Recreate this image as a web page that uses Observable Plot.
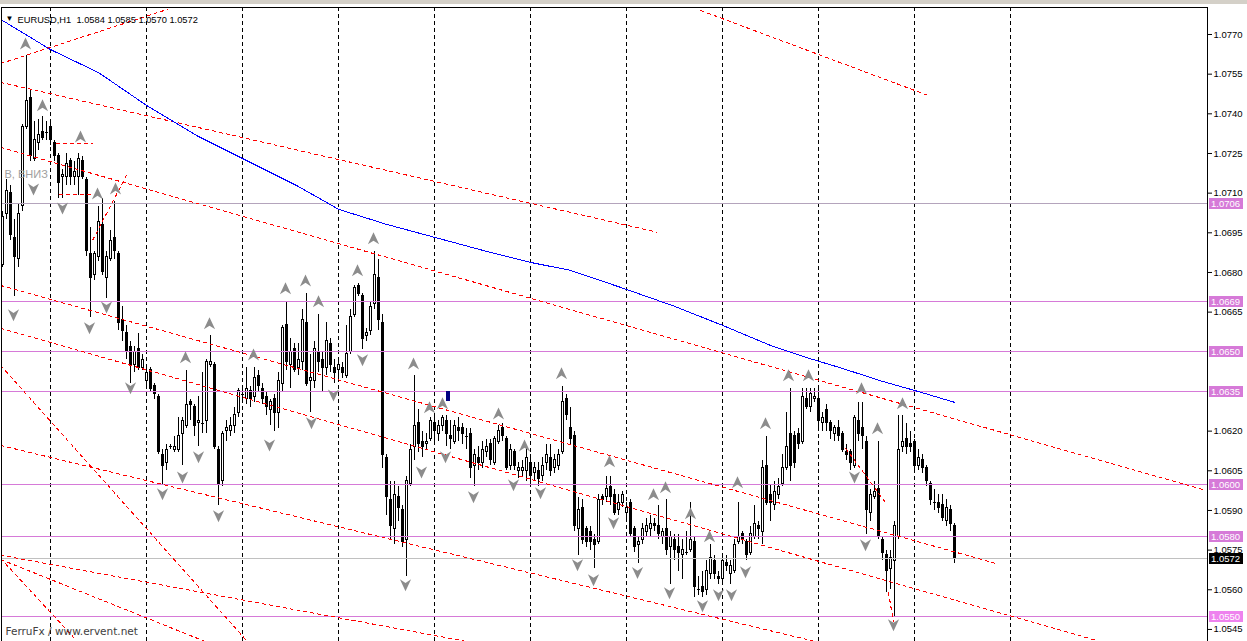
<!DOCTYPE html>
<html>
<head>
<meta charset="utf-8">
<script src="https://cdn.jsdelivr.net/npm/d3@7"></script>
<script src="https://cdn.jsdelivr.net/npm/@observablehq/plot@0.6"></script>
<style>
  body { margin: 0; background: #fff; }
  #wrap { position: relative; width: 1247px; height: 641px; overflow: hidden; }
  #bar { position: absolute; left: 0; top: 0; width: 1247px; height: 4px; background: #d4d0c8; }
</style>
</head>
<body>
<div id="wrap"><div id="chart"></div><div id="bar"></div></div>
<script>
// EURUSD H1 - prices kept in pips above 1.0500
const BASE = 1.05;
const pip = p => BASE + p / 10000;

const opens = [183,202,210,193,185,205,235,246,223,229,
  233,233,235,229,224,216,216,222,216,216,
  222,215,187,179,186,198,178,185,193,187,
  162,157,152,145,151,144,139,143,137,133,
  111,108,114,113,113,119,122,131,129,123,
  123,124,145,145,113,101,120,120,122,127,
  134,132,135,133,141,136,133,128,132,127,
  138,160,145,151,144,146,161,139,139,150,
  147,144,153,144,143,144,141,150,164,175,
  171,156,158,168,178,161,110,94,83,95,
  90,79,100,114,123,116,115,117,123,119,
  122,124,118,116,121,121,118,119,107,110,
  108,112,115,108,116,121,117,107,112,105,
  105,105,108,104,105,103,108,110,106,107,
  112,132,121,118,83,91,83,82,79,78,
  95,95,99,96,90,93,89,93,83,77,
  79,82,83,85,84,80,83,76,79,76,
  73,74,75,78,60,61,60,66,71,65,
  64,70,66,67,78,81,78,74,80,84,
  82,107,96,92,96,100,106,119,118,119,
  116,132,129,132,132,123,128,123,119,121,
  119,112,112,107,124,121,116,89,95,98,
  79,73,68,71,80,114,117,115,116,107,
  109,106,100,93,93,92,86,90,84];
const highs = [203,215,213,200,206,236,262,249,237,238,
  239,237,237,230,225,219,225,223,222,225,
  224,216,197,188,205,208,188,196,207,188,
  167,160,154,152,157,149,144,144,138,134,
  113,115,115,118,125,125,143,132,130,133,
  142,147,156,146,114,120,124,125,129,136,
  137,144,137,144,143,138,135,132,134,142,
  160,169,155,153,153,166,172,149,154,164,
  150,161,155,147,147,146,160,166,175,176,
  172,159,169,188,185,164,111,101,101,99,
  92,103,115,141,128,120,119,125,125,124,
  126,126,124,124,125,123,121,121,113,114,
  116,117,117,118,122,123,118,115,113,108,
  109,114,111,108,108,110,115,115,111,113,
  137,134,129,120,95,94,84,84,81,96,
  96,103,103,98,96,97,93,94,84,80,
  85,87,88,87,92,83,94,82,81,81,
  79,82,93,80,65,67,71,77,73,67,
  73,73,71,79,93,82,79,84,92,86,
  109,118,100,101,102,111,127,136,120,121,
  136,136,136,136,136,127,130,124,122,124,
  120,115,113,126,131,131,118,98,101,116,
  80,75,75,86,126,126,123,120,117,113,
  111,107,101,98,96,96,94,92,85];
const lows = [182,200,192,171,182,203,234,222,222,226,
  230,230,228,222,208,208,213,213,213,209,
  215,186,163,177,184,179,170,184,185,158,
  154,147,138,142,143,143,136,135,132,111,
  100,105,113,112,112,107,121,124,118,114,
  119,119,144,113,92,99,116,118,119,125,
  132,130,129,131,135,130,126,122,120,121,
  135,143,136,142,141,143,137,127,136,142,
  135,141,142,138,139,140,140,149,163,171,
  151,154,156,166,158,106,88,79,77,86,
  76,65,99,109,112,110,113,116,116,116,
  120,114,113,115,116,115,113,102,99,105,
  106,110,107,107,115,116,105,105,105,102,
  103,101,99,101,99,101,105,103,104,105,
  111,124,115,82,73,77,76,75,68,77,
  92,93,92,88,88,91,86,80,74,70,
  77,80,80,82,79,77,73,62,71,67,
  64,73,74,57,58,57,58,64,64,62,
  63,67,62,66,77,77,71,73,79,79,
  77,92,86,90,94,99,105,101,106,113,
  115,128,127,131,121,120,120,117,116,116,
  112,109,105,106,116,113,81,86,94,79,
  71,59,60,50,79,112,111,112,105,105,
  104,99,92,90,89,86,84,82,70];
const closes = [201,211,194,186,202,235,245,224,230,232,
  231,233,230,224,214,217,221,216,218,223,
  216,188,178,187,199,180,186,192,188,161,
  158,150,145,150,144,147,142,136,134,112,
  107,113,114,114,118,124,130,130,122,124,
  123,146,146,114,100,119,121,122,126,135,
  134,136,132,140,137,132,129,131,127,139,
  159,146,150,143,147,162,138,140,151,146,
  144,154,145,142,145,142,149,163,174,172,
  155,157,167,179,162,111,95,84,96,91,
  78,101,113,122,115,114,116,124,120,122,
  125,119,117,122,120,119,118,106,111,108,
  113,114,109,117,120,118,106,113,107,106,
  106,110,103,106,102,107,111,105,109,111,
  131,126,117,84,90,79,78,78,77,94,
  94,98,95,89,93,96,91,81,76,78,
  83,84,85,84,81,82,75,80,75,74,
  75,74,79,61,60,59,67,72,66,64,
  71,69,69,77,80,79,73,81,85,83,
  106,93,93,97,99,106,114,107,108,115,
  133,129,134,133,124,125,123,120,121,118,
  113,111,108,125,119,118,90,96,97,80,
  74,67,72,84,113,116,114,114,107,110,
  106,101,94,93,91,87,91,85,72];

// moving average (bar index, pips)
const maIdx = [0,12,24,36,49,60,74,84,96,108,120,132,142,156,168,180,192,200,210,220,228,238];
const maPips = [275.3,264.3,255.6,243.2,231.4,223.1,212.5,203.9,198.2,193.3,188.4,183.8,180.8,173.6,167.2,160.0,152.4,148.3,143.7,138.8,135.4,130.9];

// fractal arrows
const upIdx = [5.75,10,19.5,23.75,28.25,45.75,51.75,62.75,70.75,75.75,79,88.75,92.75,102.75,106.75,110,124,130.5,139.75,151.75,162.75,165.75,172,176.75,183.75,190.75,196.5,201.5,214.75,218.75,225];
const upPips = [266.6,243.2,231.4,209.9,211.8,147.9,160.8,149,174,177,169.1,180.8,192.9,145.6,129,130.5,126.7,114.6,141.9,108.6,96.1,98.8,88.9,80.2,100.7,123,141.1,141.1,136.2,121.1,130.5];
const dnIdx = [2.75,7.75,15,21.75,26,32,40,45,49,54,66.75,77.25,82.75,90,100.75,104.75,110.75,117.75,127.75,134.5,143.75,147.75,152.75,158.75,166.75,175,179,182.25,185.75,213,215.75,222.75];
const dnPips = [163.8,211.4,204.2,158.9,166.8,136.2,96.1,102.5,110.1,87.8,114.6,123,133.5,146.8,61.7,104.4,110.1,95,99.5,96.5,69.3,63.6,85.2,66.3,58.7,53.8,57.9,57.9,66.6,102.5,76.8,46.6];

// trend lines: start/end bar index and price
const tlX1 = [-0.5,-0.5,-0.5,-0.5,-0.5,-0.5,-0.5,-0.5,-0.5,-0.5,174.5,210.75,221.5,22.5,13.25,14];
const tlP1 = [1.07590,1.07519,1.07273,1.06751,1.06589,1.06146,1.05731,1.05715,1.05719,1.06449,1.07791,1.06136,1.05590,1.06921,1.07288,1.07095];
const tlX2 = [41.25,163.75,300.75,248.25,274.5,203.25,116.25,50.75,18.75,61.25,231.5,220.75,222.75,31,22.5,22];
const tlP2 = [1.07795,1.06952,1.05976,1.05700,1.05404,1.05404,1.05404,1.05404,1.05404,1.05404,1.07469,1.05930,1.05477,1.07167,1.07288,1.07095];

const dayIdx = [12,36,60,84,108,132,156,180,204,228,252];
const levels = [1.0669,1.0650,1.0635,1.0600,1.0580,1.0550];
const greyLevel = 1.0706;
const lastPrice = 1.0572;
// 1.0635 and 1.0650 sit under the level tags
const yTicks = [1.0545,1.0560,1.0575,1.0590,1.0605,1.0620,1.0665,1.0680,1.0695,1.0710,1.0725,1.0740,1.0755,1.0770];
const header = "EURUSD,H1\u00a0\u00a01.0584 1.0585 1.0570 1.0572";

const candles = opens.map((o, i) => ({i, o: pip(o), h: pip(highs[i]), l: pip(lows[i]), c: pip(closes[i])}));
const ma = maIdx.map((i, k) => ({i, p: pip(maPips[k])}));
const ups = upIdx.map((i, k) => ({i, p: pip(upPips[k])}));
const dns = dnIdx.map((i, k) => ({i, p: pip(dnPips[k])}));
const tls = tlX1.map((x1, k) => ({x1, y1: tlP1[k], x2: tlX2[k], y2: tlP2[k]}));

const arrowUp = {draw(ctx, size) {
  const r = Math.sqrt(size / Math.PI);
  ctx.moveTo(0, -0.75 * r); ctx.lineTo(0.7 * r, 0.75 * r); ctx.lineTo(0, 0.3 * r);
  ctx.lineTo(-0.7 * r, 0.75 * r); ctx.closePath();
}};
const arrowDown = {draw(ctx, size) {
  const r = Math.sqrt(size / Math.PI);
  ctx.moveTo(0, 0.75 * r); ctx.lineTo(0.7 * r, -0.75 * r); ctx.lineTo(0, -0.3 * r);
  ctx.lineTo(-0.7 * r, -0.75 * r); ctx.closePath();
}};

const font = "Liberation Sans";
const crisp = "crispEdges";

const chart = Plot.plot({
  width: 1247,
  height: 641,
  marginTop: 7,
  marginLeft: 1,
  marginRight: 40,
  marginBottom: 0,
  style: {fontFamily: font, fontSize: "9.5px", background: "white", color: "black"},
  x: {domain: [-0.25, 301.25], axis: null},
  y: {domain: [1.054044, 1.078021], axis: "right", ticks: yTicks, tickSize: 4, tickPadding: 2,
      tickFormat: d3.format(".4f"), label: null},
  marks: [
    Plot.ruleX(dayIdx, {stroke: "black", strokeDasharray: "4,3", clip: true, shapeRendering: crisp}),
    // candles: wicks then bodies
    Plot.ruleX(candles, {x: "i", y1: "l", y2: "h", stroke: "black", shapeRendering: crisp}),
    Plot.rect(candles.filter(d => d.o !== d.c), {
      x1: d => d.i - 0.25, x2: d => d.i + 0.25,
      y1: d => Math.min(d.o, d.c), y2: d => Math.max(d.o, d.c),
      fill: d => d.c > d.o ? "white" : "black", stroke: "black", shapeRendering: crisp
    }),
    Plot.ruleY(candles.filter(d => d.o === d.c), {y: "o", x1: d => d.i - 0.375, x2: d => d.i + 0.375,
      stroke: "black", shapeRendering: crisp}),
    // objects on top of the chart
    Plot.ruleY(levels, {stroke: "#d67ad8", shapeRendering: crisp}),
    Plot.ruleY([greyLevel], {stroke: "#b4a4bc", shapeRendering: crisp}),
    Plot.ruleY([lastPrice], {stroke: "#c0c0c0", shapeRendering: crisp}),
    Plot.link(tls, {x1: "x1", y1: "y1", x2: "x2", y2: "y2", stroke: "red", strokeDasharray: "4,3",
      clip: true, shapeRendering: crisp}),
    Plot.line(ma, {x: "i", y: "p", stroke: "#0000ff", strokeWidth: 1, clip: true, shapeRendering: crisp}),
    Plot.dot(ups, {x: "i", y: "p", symbol: arrowUp, r: 8, fill: "#8c8c8c", clip: true}),
    Plot.dot(dns, {x: "i", y: "p", symbol: arrowDown, r: 8, fill: "#8c8c8c", clip: true}),
    Plot.rect([{i: 111, top: 1.06350, bottom: 1.06313}], {x1: "i", x2: d => d.i + 1, y1: "bottom", y2: "top",
      fill: "#000080", shapeRendering: crisp}),
    Plot.text(["\u25bc"], {text: d => d, frameAnchor: "top-left", dx: 4, dy: 8, fontSize: 8, textAnchor: "start"}),
    Plot.text([header], {text: d => d, frameAnchor: "top-left", dx: 16, dy: 8.5, textAnchor: "start", fontSize: 9.3}),
    Plot.text(["В, ВНИЗ"], {text: d => d, frameAnchor: "top-left", dx: 3, dy: 163, textAnchor: "start", fontSize: 11, fill: "#a0a0a0"}),
    Plot.text(["FerruFx / www.ervent.net"], {text: d => d, frameAnchor: "bottom-left", dx: 4, dy: -7, textAnchor: "start",
      fontSize: 10.5, fontFamily: "DejaVu Sans", fill: "#404040"}),
    Plot.frame({stroke: "black", shapeRendering: crisp})
  ]
});

// price tags on the right axis
const ys = chart.scale("y");
const tags = d3.select(chart).append("g")
  .attr("font-family", font).attr("font-size", "9.5px").attr("text-anchor", "start");
const tagData = [greyLevel].concat(levels).map(v => ({v, bg: v === 1.0550 ? "#ee82ee" : "#d67ad8"}))
  .concat([{v: lastPrice, bg: "black"}]);
tags.selectAll("rect").data(tagData).join("rect")
  .attr("x", 1209).attr("width", 34).attr("height", 11)
  .attr("y", d => Math.round(ys.apply(d.v)) - 5).attr("fill", d => d.bg);
tags.selectAll("text").data(tagData).join("text")
  .attr("x", 1211).attr("y", d => Math.round(ys.apply(d.v)) + 0.5).attr("dy", "0.35em")
  .attr("fill", "white").text(d => d.v.toFixed(4));

document.getElementById("chart").append(chart);
</script>
</body>
</html>
